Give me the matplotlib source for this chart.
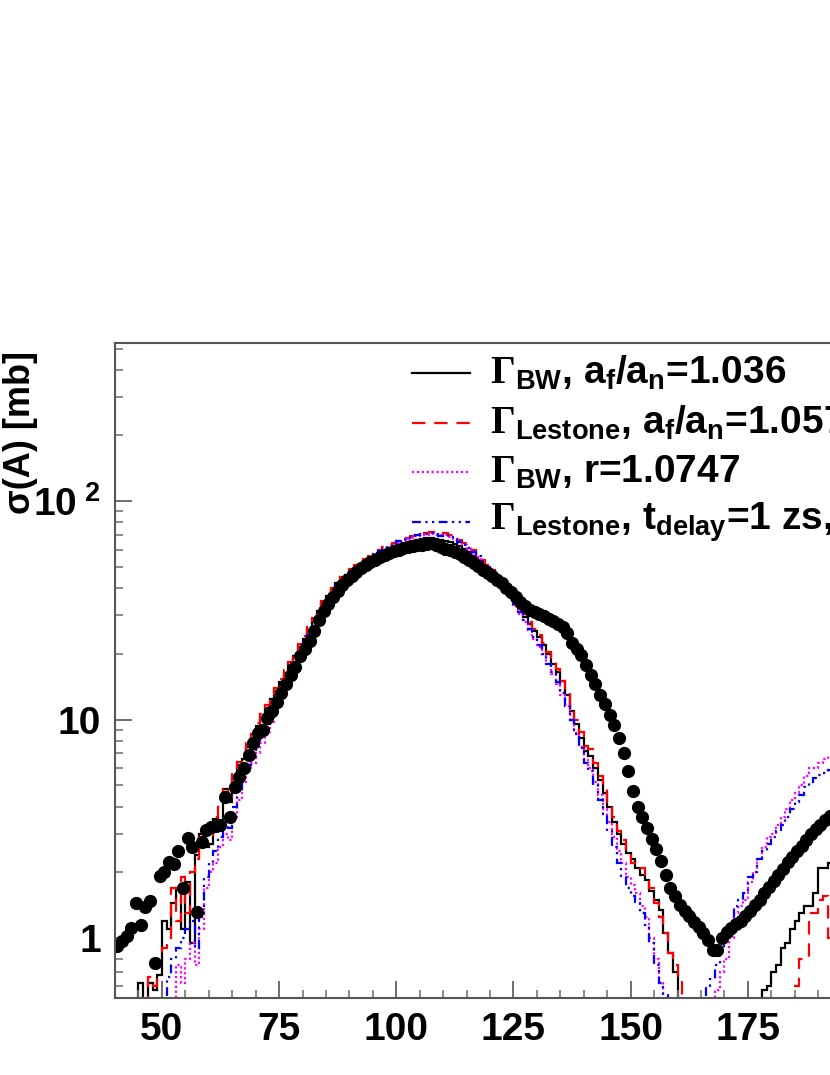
import numpy as np
import matplotlib
matplotlib.use("Agg")
import matplotlib.pyplot as plt
from matplotlib.lines import Line2D
from matplotlib.ticker import FixedLocator, FixedFormatter, MultipleLocator, LogLocator, NullFormatter

plt.rcParams["font.family"] = ["Liberation Sans", "DejaVu Sans"]
plt.rcParams["font.weight"] = "bold"
plt.rcParams["mathtext.fontset"] = "custom"
plt.rcParams["mathtext.rm"] = "Liberation Serif"
plt.rcParams["mathtext.bf"] = "Liberation Sans:bold"
plt.rcParams["mathtext.it"] = "Liberation Sans:bold"

# mass number A, one bin per unit, 40..192
A_START = 40
mass = np.arange(A_START, 193)

data_sigma = [
    0.92, 0.97, 1.02, 1.11, 1.44, 1.15, 1.38, 1.47, 0.77, 1.92,
    2.0, 2.22, 2.18, 2.51, 1.69, 2.88, 2.62, 1.32, 2.74, 3.12,
    3.23, 3.25, 3.29, 4.43, 3.59, 4.89, 5.44, 6.0, 6.9, 7.8,
    8.7, 9.0, 10.2, 11.0, 12.0, 13.2, 14.5, 16.0, 17.5, 19.5,
    21.0, 23.0, 25.5, 28.5, 31.5, 34.0, 36.5, 39.0, 41.5, 43.5,
    45.5, 47.5, 49.5, 51.0, 52.5, 54.0, 55.5, 57.0, 58.0, 59.0,
    60.0, 60.8, 61.5, 62.2, 62.8, 63.3, 63.8, 64.2, 63.0, 61.5,
    60.5, 59.5, 58.5, 57.2, 55.8, 54.0, 52.3, 50.5, 48.6, 47.0,
    45.3, 43.6, 42.0, 40.2, 38.3, 36.5, 34.5, 33.0, 31.8, 31.0,
    30.3, 29.8, 29.0, 28.2, 27.5, 26.5, 25.0, 22.5, 21.0, 19.7,
    17.8, 16.0, 14.5, 13.0, 11.8, 10.5, 9.4, 8.2, 7.0, 5.8,
    4.7, 4.0, 3.6, 3.2, 2.85, 2.55, 2.25, 1.95, 1.7, 1.55,
    1.42, 1.33, 1.26, 1.19, 1.12, 1.05, 0.98, 0.88, 0.88, 1.0,
    1.06, 1.11, 1.16, 1.2, 1.26, 1.33, 1.41, 1.5, 1.6, 1.72,
    1.82, 1.95, 2.08, 2.22, 2.36, 2.5, 2.65, 2.8, 2.98, 3.15,
    3.3, 3.48, 3.62,
]

bw_af = [
    0.1, 0.1, 0.1, 0.1, 0.1, 0.62, 0.1, 0.62, 0.58, 0.68,
    1.2, 1.1, 1.45, 1.7, 1.1, 1.8, 0.95, 2.4, 3.0, 2.6,
    2.7, 3.5, 3.4, 4.8, 4.2, 5.5, 6.2, 6.6, 7.5, 8.2,
    9.3, 10.2, 11.3, 12.4, 13.5, 14.8, 16.3, 17.8, 19.5, 21.5,
    23.5, 25.8, 28.5, 31.5, 34.5, 36.8, 39.5, 42.0, 44.0, 46.0,
    47.8, 49.5, 51.5, 53.0, 54.8, 56.5, 58.0, 59.5, 61.0, 62.0,
    63.0, 64.0, 65.0, 66.0, 66.5, 67.0, 67.5, 67.5, 67.0, 66.5,
    66.0, 65.0, 64.0, 62.5, 60.5, 58.5, 56.0, 53.5, 51.0, 48.5,
    46.0, 44.0, 42.0, 40.0, 37.5, 35.0, 32.0, 29.5, 27.5, 25.5,
    24.0, 22.0, 20.0, 18.0, 16.5, 15.0, 13.0, 11.0, 9.5, 8.2,
    7.2, 6.8, 6.0, 5.3, 4.6, 4.0, 3.4, 3.0, 2.7, 2.45,
    2.3, 2.1, 1.95, 1.85, 1.65, 1.5, 1.35, 1.05, 0.85, 0.7,
    0.1, 0.1, 0.1, 0.1, 0.1, 0.1, 0.1, 0.1, 0.1, 0.1,
    0.1, 0.1, 0.1, 0.1, 0.1, 0.1, 0.1, 0.1, 0.58, 0.6,
    0.7, 0.75, 0.9, 0.95, 1.1, 1.2, 1.3, 1.4, 1.4, 1.6,
    2.1, 2.1, 2.2,
]

lestone_af = [
    0.1, 0.1, 0.1, 0.1, 0.1, 0.1, 0.1, 0.66, 0.6, 0.8,
    0.9, 1.0, 1.7, 1.2, 1.9, 1.3, 2.0, 2.3, 2.9, 2.8,
    2.9, 3.6, 4.0, 4.9, 4.4, 5.7, 6.4, 6.9, 7.8, 8.6,
    9.6, 10.6, 11.7, 12.8, 14.0, 15.3, 16.8, 18.4, 20.2, 22.2,
    24.2, 26.5, 29.2, 32.0, 35.0, 37.5, 40.2, 42.8, 45.0, 47.0,
    49.0, 50.8, 52.8, 54.5, 56.3, 58.0, 59.8, 61.5, 63.0, 64.3,
    65.5, 66.8, 68.0, 69.2, 70.0, 71.0, 71.5, 72.0, 71.5, 70.5,
    71.5, 70.0, 68.5, 66.5, 64.5, 62.0, 59.5, 57.0, 54.0, 51.0,
    48.5, 46.0, 44.0, 41.5, 39.0, 36.0, 33.0, 30.5, 28.0, 26.0,
    24.5, 22.5, 20.5, 18.5, 17.0, 15.0, 13.5, 11.5, 10.0, 8.8,
    7.6, 7.3, 6.3, 5.5, 4.8, 4.2, 3.6, 3.1, 2.8, 2.5,
    2.2, 2.15, 2.1, 1.9, 1.7, 1.45, 1.25, 1.05, 0.85, 0.75,
    0.67, 0.1, 0.1, 0.1, 0.1, 0.1, 0.1, 0.1, 0.1, 0.1,
    0.1, 0.1, 0.1, 0.1, 0.1, 0.1, 0.1, 0.1, 0.1, 0.1,
    0.1, 0.1, 0.1, 0.1, 0.1, 0.6, 0.8, 0.8, 1.3, 1.3,
    1.5, 1.55, 1.0,
]

bw_r = [
    0.1, 0.1, 0.1, 0.1, 0.1, 0.1, 0.1, 0.1, 0.1, 0.1,
    0.1, 0.1, 0.1, 0.75, 0.62, 0.8, 0.95, 0.75, 1.1, 1.7,
    2.0, 2.2, 2.6, 3.0, 2.8, 3.6, 4.3, 5.2, 5.8, 6.3,
    7.0, 7.8, 8.8, 9.8, 11.0, 12.3, 13.7, 15.3, 17.0, 19.0,
    21.0, 23.2, 25.5, 28.2, 30.8, 33.5, 36.2, 39.0, 41.5, 44.0,
    46.0, 48.3, 50.5, 52.5, 54.5, 56.5, 58.2, 60.0, 61.5, 63.0,
    64.5, 65.8, 67.0, 68.0, 69.0, 69.8, 70.3, 70.5, 70.0, 69.8,
    70.0, 68.5, 67.0, 65.0, 63.0, 60.5, 58.0, 55.5, 52.5, 49.5,
    46.8, 44.0, 41.5, 39.0, 36.0, 33.5, 30.5, 28.0, 25.8, 23.5,
    21.5, 20.0, 18.0, 16.2, 14.5, 13.0, 11.5, 10.0, 8.7, 7.5,
    6.5, 6.0, 5.2, 4.5, 3.9, 3.4, 2.9, 2.5, 2.2, 1.9,
    1.75, 1.6, 1.4, 1.25, 1.0, 0.8, 0.62, 0.1, 0.1, 0.1,
    0.1, 0.1, 0.1, 0.1, 0.1, 0.1, 0.1, 0.1, 0.58, 0.7,
    0.8, 1.0, 1.3, 1.4, 1.5, 1.8, 2.0, 2.3, 2.6, 2.9,
    3.0, 3.3, 3.6, 3.9, 4.3, 4.6, 5.0, 5.5, 6.0, 6.0,
    6.3, 6.6, 6.8,
]

lestone_tdelay = [
    0.1, 0.1, 0.1, 0.1, 0.1, 0.1, 0.1, 0.1, 0.1, 0.1,
    0.1, 0.66, 0.8, 0.9, 1.0, 1.1, 1.2, 0.9, 1.25, 1.9,
    2.2, 2.5, 2.9, 3.4, 3.2, 4.0, 4.7, 5.5, 6.2, 6.8,
    7.6, 8.5, 9.5, 10.6, 11.8, 13.2, 14.7, 16.3, 18.2, 20.2,
    22.3, 24.5, 27.0, 29.8, 32.5, 35.3, 38.0, 40.8, 43.3, 45.5,
    47.5, 49.5, 51.5, 53.5, 55.5, 57.5, 59.2, 61.0, 62.5, 64.0,
    65.5, 66.8, 68.0, 69.0, 70.0, 70.5, 71.0, 71.2, 70.5, 69.5,
    70.0, 68.5, 67.0, 65.0, 63.0, 61.0, 58.5, 56.0, 53.0, 50.0,
    47.0, 44.5, 42.0, 39.0, 36.5, 33.5, 31.0, 28.5, 26.0, 24.0,
    22.0, 20.0, 18.0, 16.5, 14.8, 13.2, 11.5, 10.0, 8.6, 7.4,
    6.3, 5.8, 5.0, 4.3, 3.7, 3.1, 2.6, 2.2, 1.9, 1.7,
    1.55, 1.45, 1.3, 1.15, 0.95, 0.75, 0.62, 0.55, 0.1, 0.1,
    0.1, 0.1, 0.1, 0.1, 0.1, 0.1, 0.6, 0.65, 0.75, 0.9,
    1.1, 1.2, 1.4, 1.5, 1.6, 1.9, 2.0, 2.3, 2.5, 2.7,
    2.9, 3.1, 3.3, 3.6, 3.9, 4.2, 4.5, 4.9, 5.2, 5.4,
    5.6, 5.7, 5.9,
]

legend_labels = [
    r"$\Gamma_{\mathbf{BW}}$, a$_{\mathbf{f}}$/a$_{\mathbf{n}}$=1.036",
    r"$\Gamma_{\mathbf{Lestone}}$, a$_{\mathbf{f}}$/a$_{\mathbf{n}}$=1.057",
    r"$\Gamma_{\mathbf{BW}}$, r=1.0747",
    r"$\Gamma_{\mathbf{Lestone}}$, t$_{\mathbf{delay}}$=1 zs,",
]
series = [bw_af, lestone_af, bw_r, lestone_tdelay]
colors = ["black", "red", "magenta", "blue"]
styles = ["-", (0, (6, 4)), (0, (1, 1.2)), (0, (4, 2, 1, 2, 1, 2))]

W, H = 830, 1075
fig = plt.figure(figsize=(W / 100, H / 100), dpi=100)
# axes runs off the right edge like the original crop
ax = fig.add_axes([115 / W, 1 - 997.7 / H, 750 / W, (997.7 - 343) / H])

edges = np.arange(A_START, 194)
for vals, col, ls in zip(series, colors, styles):
    ax.stairs(vals, edges, color=col, linestyle=ls, lw=1.6, baseline=None)

ax.plot(mass + 0.5, data_sigma, "o", color="black", ms=8.5, ls="none")

ax.set_yscale("log")
ax.set_xlim(40, 200)
ax.set_ylim(0.533, 530)

ax.yaxis.set_major_locator(FixedLocator([1, 10, 100]))
ax.yaxis.set_major_formatter(FixedFormatter(["1", "10", r"$\mathbf{10^{\ 2}}$"]))
ax.yaxis.set_minor_locator(LogLocator(base=10, subs=np.arange(2, 10)))
ax.yaxis.set_minor_formatter(NullFormatter())
ax.xaxis.set_major_locator(FixedLocator([50, 75, 100, 125, 150, 175]))
ax.xaxis.set_minor_locator(MultipleLocator(5))
ax.tick_params(axis="both", which="major", direction="in", length=12,
               width=1.2, color="#555555", labelsize=28, pad=10)
ax.tick_params(axis="both", which="minor", direction="in", length=6,
               width=1.2, color="#777777")
ax.tick_params(axis="y", which="both", right=False)
ax.tick_params(axis="x", which="both", top=False)
for lab in ax.get_xticklabels() + ax.get_yticklabels():
    lab.set_fontweight("bold")
for sp in ax.spines.values():
    sp.set_color("#555555")
    sp.set_linewidth(1.5)

fig.text(21 / W, 1 - 432 / H, "σ(A) [mb]", rotation=90, fontsize=26,
         fontweight="bold", ha="center", va="center")

# legend drawn by hand at the top of the frame
rows_y = [373, 423, 472, 522]
for yy, lab, col, ls in zip(rows_y, legend_labels, colors, styles):
    fy = 1 - yy / H
    fig.add_artist(Line2D([412 / W, 470 / W], [fy, fy], color=col, ls=ls,
                          lw=1.6, transform=fig.transFigure))
    fig.text(490 / W, fy, lab, fontsize=28, va="center", ha="left")

fig.savefig("out.png", dpi=100)
